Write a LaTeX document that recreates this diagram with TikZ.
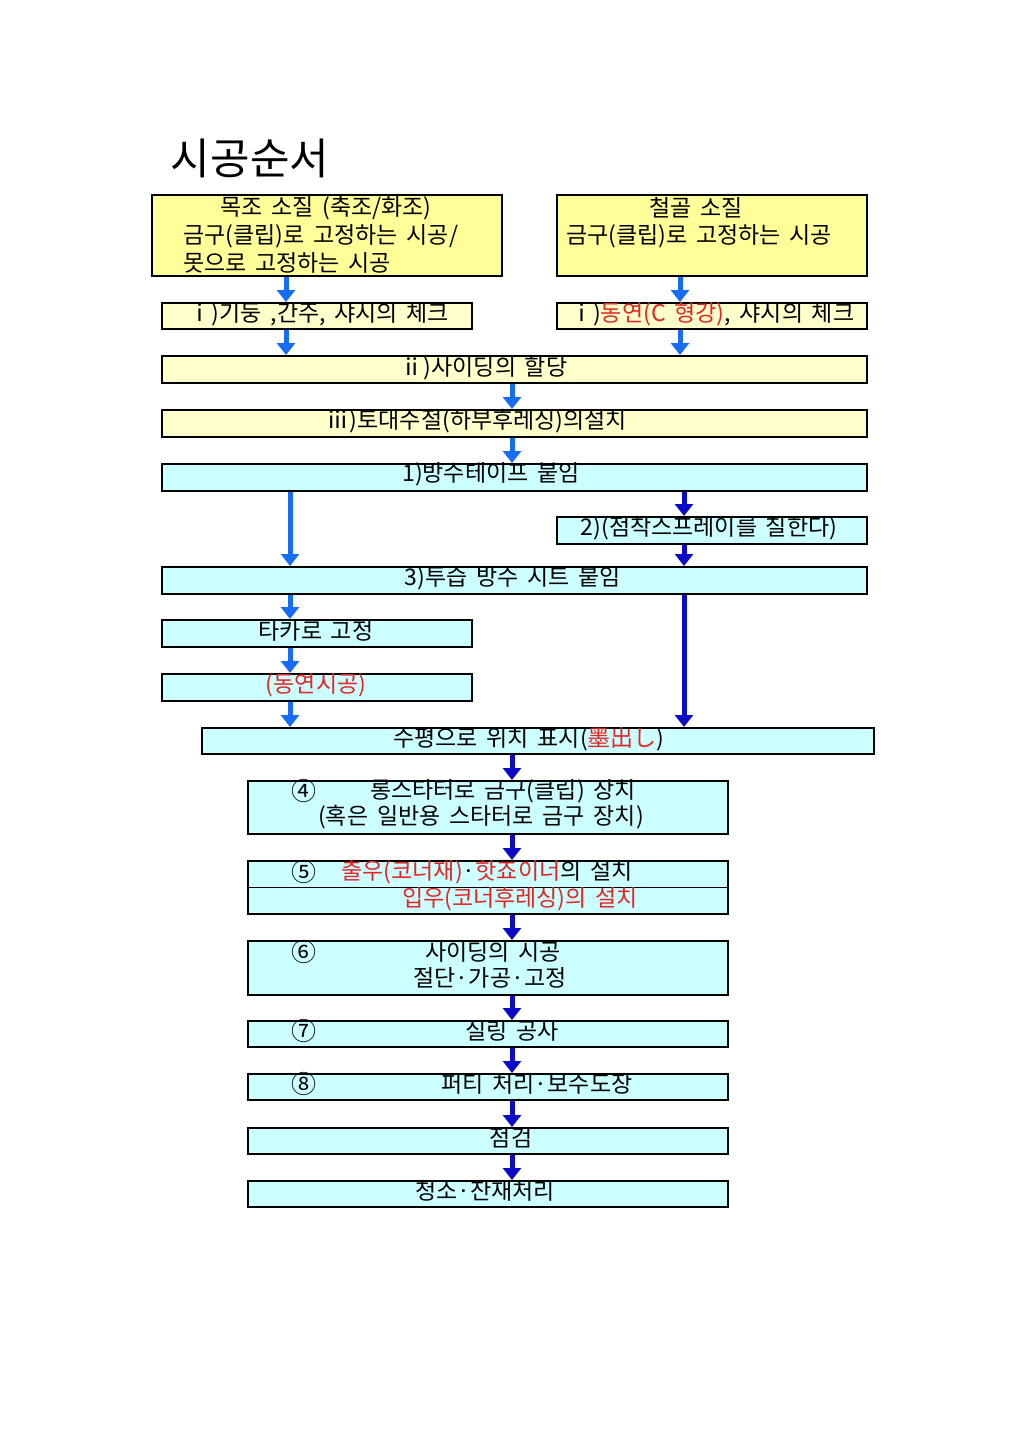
\documentclass[tikz,border=0pt]{standalone}
\usepackage{fontspec}
\setmainfont{Noto Sans CJK KR}[WordSpace=1.7]
\usetikzlibrary{arrows.meta}
\definecolor{deepyellow}{RGB}{255,255,153}
\definecolor{paleyellow}{RGB}{255,255,204}
\definecolor{paleblue}{RGB}{204,255,255}
\definecolor{lightarrow}{RGB}{22,108,242}
\definecolor{darkarrow}{RGB}{12,12,200}
\definecolor{redtxt}{RGB}{230,36,36}
\begin{document}
\begin{tikzpicture}[x=1pt,y=-1pt,
  box/.style={draw,line width=1.6pt,inner sep=0pt,anchor=north west},
  ybox/.style={box,fill=deepyellow},
  pbox/.style={box,fill=paleyellow},
  cbox/.style={box,fill=paleblue},
  lbl/.style={inner sep=0pt,font=\fontsize{23}{28}\selectfont},
  num/.style={inner sep=0pt,font=\fontsize{25}{28}\selectfont},
  uparr/.style={line width=5pt,lightarrow,-{Triangle[width=18pt,length=12pt]}},
  dnarr/.style={line width=5pt,darkarrow,-{Triangle[width=18pt,length=12pt]}}]
  \useasboundingbox (0,0) rectangle (1024,1447);

  \node[inner sep=0pt,font=\fontsize{43}{48}\selectfont] (title) at (250,158) {시공순서};

  \node[ybox,minimum width=350,minimum height=81] (boxA) at (151,194) {};
  \node[ybox,minimum width=310,minimum height=81] (boxB) at (556,194) {};
  \node[pbox,minimum width=310,minimum height=26] (boxIa) at (161,302) {};
  \node[pbox,minimum width=310,minimum height=26] (boxIb) at (556,302) {};
  \node[pbox,minimum width=705,minimum height=27] (boxII) at (161,355) {};
  \node[pbox,minimum width=705,minimum height=27] (boxIII) at (161,409) {};
  \node[cbox,minimum width=705,minimum height=27] (boxTape) at (161,463) {};
  \node[cbox,minimum width=310,minimum height=27] (boxSpray) at (556,516) {};
  \node[cbox,minimum width=705,minimum height=27] (boxSheet) at (161,566) {};
  \node[cbox,minimum width=310,minimum height=27] (boxTaka) at (161,619) {};
  \node[cbox,minimum width=310,minimum height=27] (boxDong) at (161,673) {};
  \node[cbox,minimum width=672,minimum height=26] (boxMark) at (201,727) {};
  \node[cbox,minimum width=480,minimum height=53] (boxFour) at (247,780) {};
  \node[cbox,minimum width=480,minimum height=53] (boxFive) at (247,860) {};
  \node[cbox,minimum width=480,minimum height=54] (boxSix) at (247,940) {};
  \node[cbox,minimum width=480,minimum height=26] (boxSeven) at (247,1020) {};
  \node[cbox,minimum width=480,minimum height=26] (boxEight) at (247,1073) {};
  \node[cbox,minimum width=480,minimum height=26] (boxCheck) at (247,1127) {};
  \node[cbox,minimum width=480,minimum height=26] (boxClean) at (247,1180) {};
  \draw[line width=1.6pt] (boxFive.west) -- (boxFive.east);

  \node[lbl] (tA1) at (326,208) {목조 소질 (축조/화조)};
  \node[lbl,anchor=west] (tA2) at (183,236) {금구(클립)로 고정하는 시공/};
  \node[lbl,anchor=west] (tA3) at (183,263) {못으로 고정하는 시공};
  \node[lbl] (tB1) at (696,208) {철골 소질};
  \node[lbl,anchor=west] (tB2) at (566,236) {금구(클립)로 고정하는 시공};
  \node[lbl] (tIa) at (319,314) {ⅰ)기둥 ,간주, 샤시의 체크};
  \node[lbl,anchor=west] (tIb) at (570,314) {ⅰ)\textcolor{redtxt}{동연(C 형강)}, 샤시의 체크};
  \node[lbl] (tII) at (484,368) {ⅱ)사이딩의 할당};
  \node[lbl] (tIII) at (477,421) {ⅲ)토대수절(하부후레싱)의설치};
  \node[lbl] (tTape) at (491,474) {1)방수테이프 붙임};
  \node[lbl] (tSpray) at (709,528) {2)(점착스프레이를 칠한다)};
  \node[lbl] (tSheet) at (513,578) {3)투습 방수 시트 붙임};
  \node[lbl] (tTaka) at (316,631) {타카로 고정};
  \node[lbl,text=redtxt] (tDong) at (316,685) {(동연시공)};
  \node[lbl] (tMark) at (529,739) {수평으로 위치 표시(\textcolor{redtxt}{墨出し})};
  \node[num] (nFour) at (304,791) {④};
  \node[lbl] (tFour1) at (503,791) {롱스타터로 금구(클립) 장치};
  \node[lbl] (tFour2) at (481,817) {(혹은 일반용 스타터로 금구 장치)};
  \node[num] (nFive) at (304,872) {⑤};
  \node[lbl] (tFive1) at (487,872) {\textcolor{redtxt}{출우(코너재)}·\textcolor{redtxt}{핫죠이너}의 설치};
  \node[lbl,text=redtxt] (tFive2) at (520,899) {입우(코너후레싱)의 설치};
  \node[num] (nSix) at (304,952) {⑥};
  \node[lbl] (tSix1) at (493,952) {사이딩의 시공};
  \node[lbl] (tSix2) at (490,978) {절단·가공·고정};
  \node[num] (nSeven) at (304,1031) {⑦};
  \node[lbl] (tSeven) at (512,1031) {실링 공사};
  \node[num] (nEight) at (304,1084) {⑧};
  \node[lbl] (tEight) at (537,1084) {퍼티 처리·보수도장};
  \node[lbl] (tCheck) at (511,1138) {점검};
  \node[lbl] (tClean) at (485,1191) {청소·잔재처리};

  \coordinate (cA) at (286,0);
  \coordinate (cB) at (680,0);
  \coordinate (cC) at (512,0);
  \coordinate (cD) at (290,0);
  \coordinate (cE) at (684,0);
  \path[uparr]
   (boxA.south -| cA) edge (boxIa.north -| cA)
   (boxB.south -| cB) edge (boxIb.north -| cB)
   (boxIa.south -| cA) edge (boxII.north -| cA)
   (boxIb.south -| cB) edge (boxII.north -| cB)
   (boxII.south -| cC) edge (boxIII.north -| cC)
   (boxIII.south -| cC) edge (boxTape.north -| cC)
   (boxTape.south -| cD) edge (boxSheet.north -| cD)
   (boxSheet.south -| cD) edge (boxTaka.north -| cD)
   (boxTaka.south -| cD) edge (boxDong.north -| cD)
   (boxDong.south -| cD) edge (boxMark.north -| cD);
  \path[dnarr]
   (boxTape.south -| cE) edge (boxSpray.north -| cE)
   (boxSpray.south -| cE) edge (boxSheet.north -| cE)
   (boxSheet.south -| cE) edge (boxMark.north -| cE)
   (boxMark.south -| cC) edge (boxFour.north -| cC)
   (boxFour.south -| cC) edge (boxFive.north -| cC)
   (boxFive.south -| cC) edge (boxSix.north -| cC)
   (boxSix.south -| cC) edge (boxSeven.north -| cC)
   (boxSeven.south -| cC) edge (boxEight.north -| cC)
   (boxEight.south -| cC) edge (boxCheck.north -| cC)
   (boxCheck.south -| cC) edge (boxClean.north -| cC);
\end{tikzpicture}
\end{document}
